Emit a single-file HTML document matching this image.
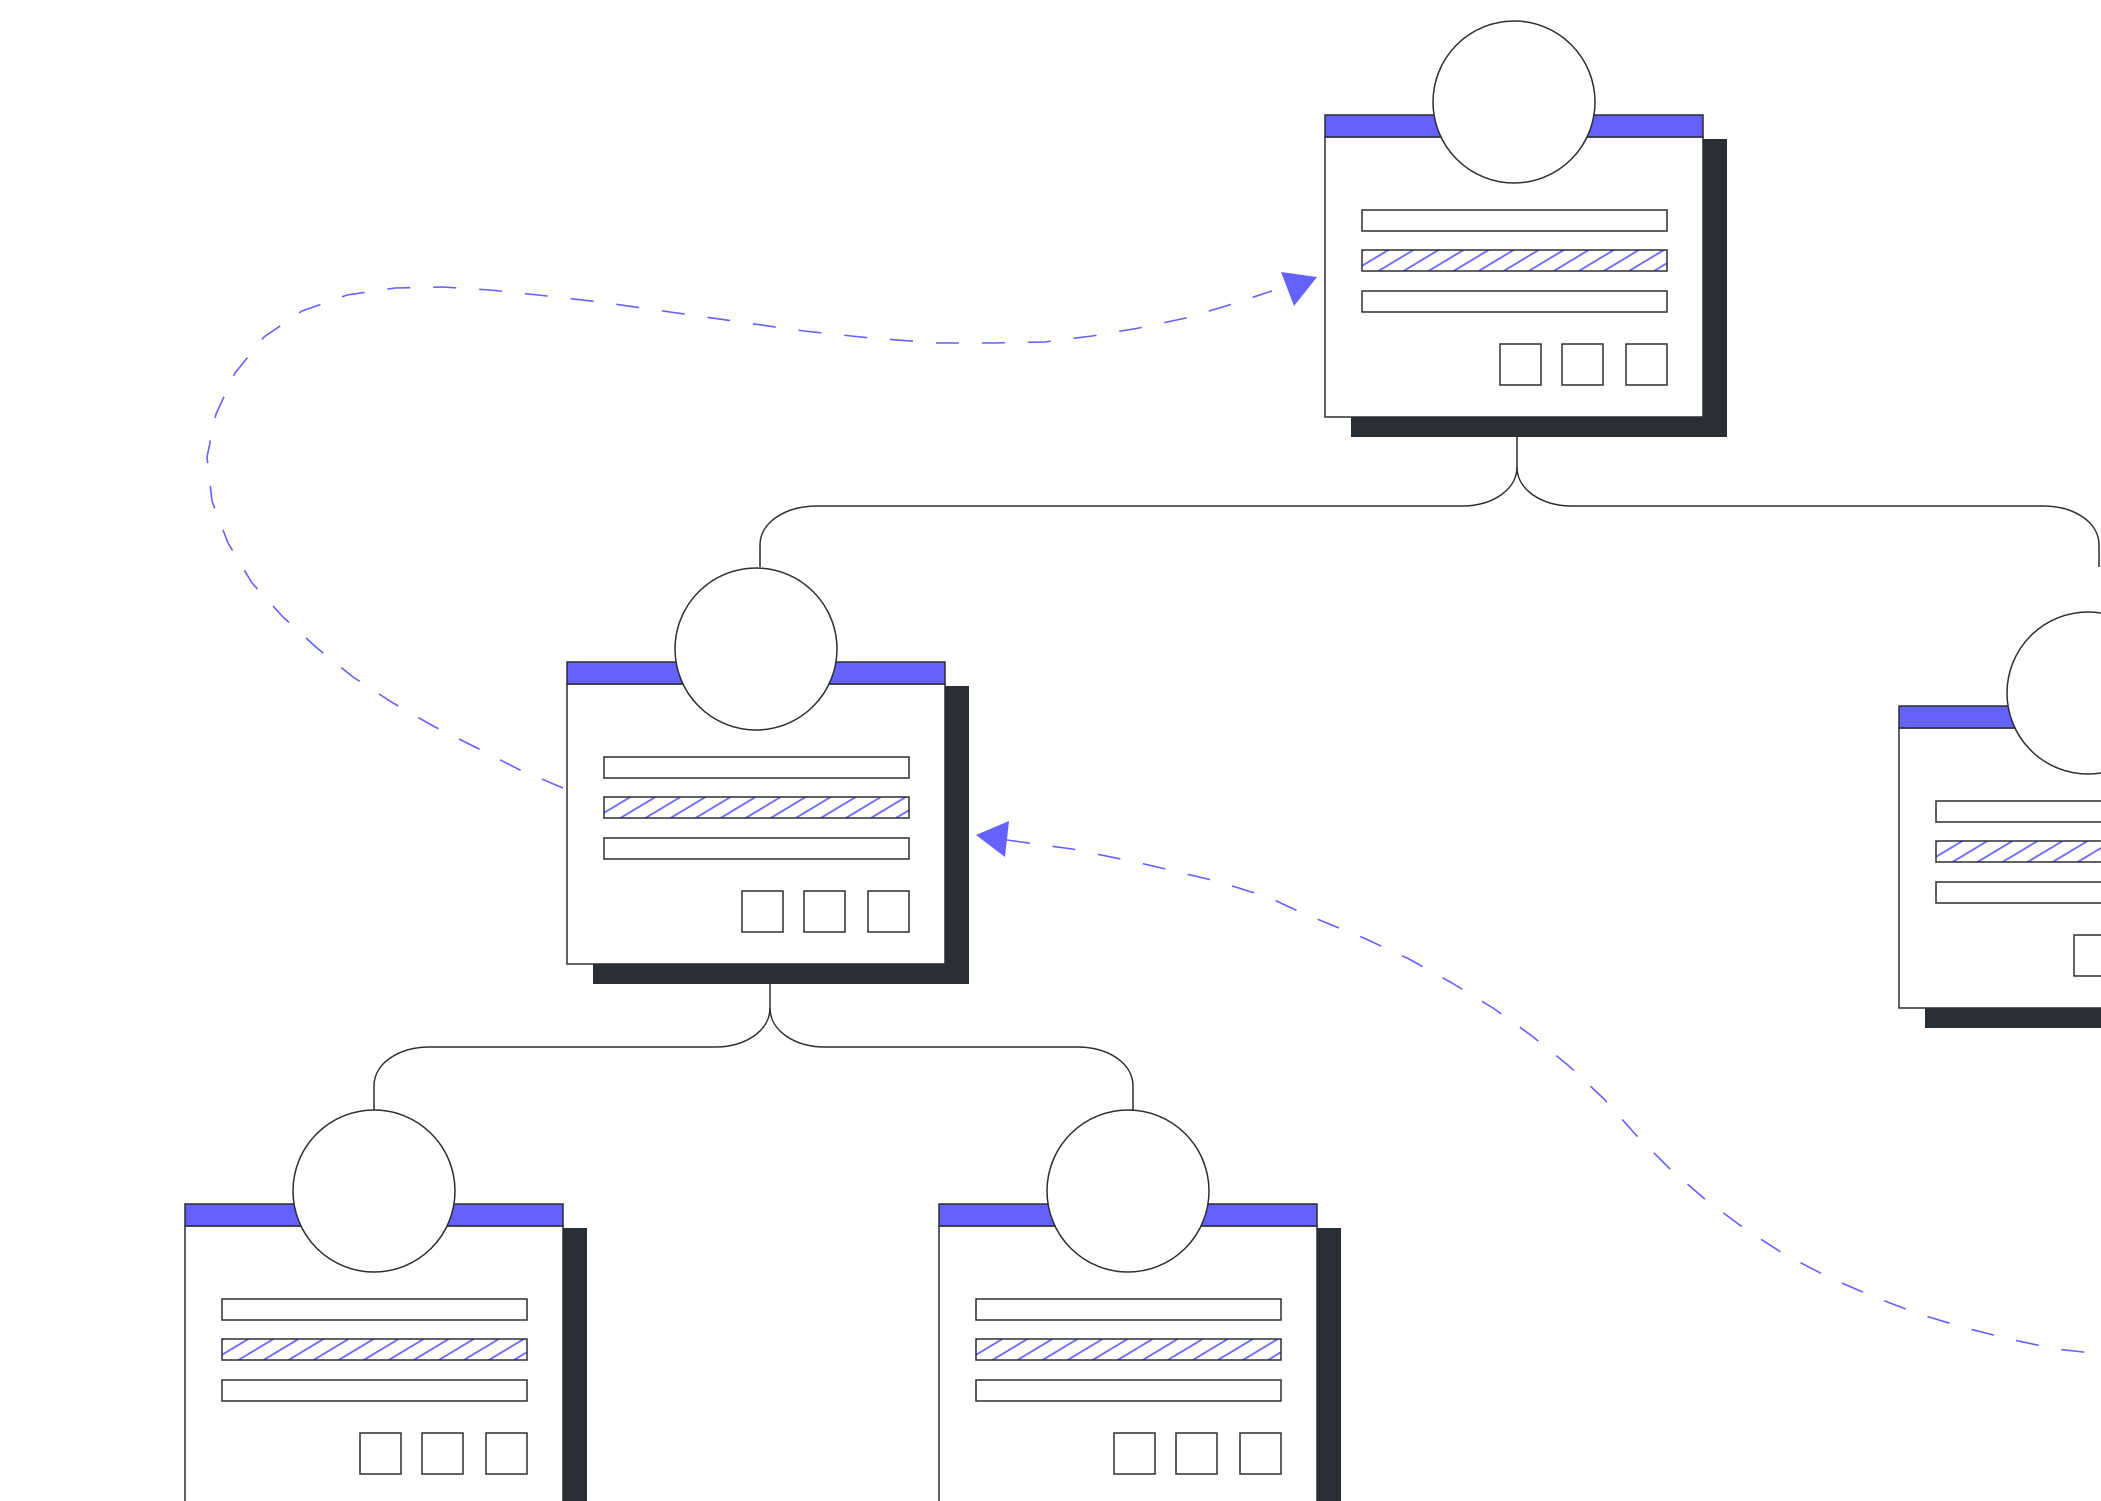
<!DOCTYPE html>
<html><head><meta charset="utf-8"><style>
html,body{margin:0;padding:0;background:#fff;}
svg{display:block;}
</style></head><body>
<svg width="2101" height="1501" viewBox="0 0 2101 1501" xmlns="http://www.w3.org/2000/svg">
<defs>
<pattern id="hatch" patternUnits="userSpaceOnUse" width="20" height="12.9" patternTransform="rotate(-31)">
<line x1="-5" y1="6.45" x2="25" y2="6.45" stroke="#6461fc" stroke-width="1.8"/>
</pattern>
<g id="card">
<rect x="26" y="24" width="376" height="298" fill="#2a2e35"/>
<rect x="0" y="22" width="378" height="280" fill="#fff" stroke="#2a2e35" stroke-width="1.5"/>
<rect x="0" y="0" width="378" height="22" fill="#6461fc" stroke="#2a2e35" stroke-width="1.5"/>
<circle cx="189" cy="-13" r="81" fill="#fff" stroke="#2a2e35" stroke-width="1.5"/>
<rect x="37" y="95" width="305" height="21" fill="#fff" stroke="#2a2e35" stroke-width="1.5"/>
<rect x="37" y="135" width="305" height="21" fill="#fff"/>
<rect x="37" y="135" width="305" height="21" fill="url(#hatch)" stroke="#2a2e35" stroke-width="1.5"/>
<rect x="37" y="176" width="305" height="21" fill="#fff" stroke="#2a2e35" stroke-width="1.5"/>
<rect x="175" y="229" width="41" height="41" fill="#fff" stroke="#2a2e35" stroke-width="1.5"/>
<rect x="237" y="229" width="41" height="41" fill="#fff" stroke="#2a2e35" stroke-width="1.5"/>
<rect x="301" y="229" width="41" height="41" fill="#fff" stroke="#2a2e35" stroke-width="1.5"/>
</g>
</defs>

<g fill="none" stroke="#2a2e35" stroke-width="1.5">
<path d="M1517 437 V467 C1517 490 1492 506 1462 506 H817 C786 506 760 522 760 545 V567"/>
<path d="M1517 467 C1517 490 1542 506 1572 506 H2043 C2074 506 2099 522 2099 545 V567"/>
<path d="M770 984 V1008 C770 1031 745 1047 715 1047 H430 C399 1047 374 1063 374 1086 V1110"/>
<path d="M770 1008 C770 1031 795 1047 825 1047 H1077 C1108 1047 1133 1063 1133 1086 V1110"/>
</g>

<use href="#card" x="1325" y="115"/>
<use href="#card" x="567" y="662"/>
<use href="#card" x="1899" y="706"/>
<use href="#card" x="185" y="1204"/>
<use href="#card" x="939" y="1204"/>

<g fill="none" stroke="#6461fc" stroke-width="1.6" stroke-dasharray="23 23" stroke-linejoin="round">
<polyline points="563,788 518,769 477,748 435,727 393,703 353,677 317,648 283,617 252,583 228,543 212,501 207,457 216,414 235,373 264,337 302,311 347,295 395,288 443,287 490,290 538,295 600,302 670,312 740,322 804,331 870,338 938,343 992,343 1045,342 1092,336 1139,328 1186,318 1226,306 1272,291"/>
<polyline points="1007,840 1072,849 1140,863 1220,882 1270,898 1300,912 1366,939 1409,959 1452,983 1493,1008 1532,1036 1569,1066 1604,1099 1636,1135 1670,1169 1706,1200 1745,1229 1784,1254 1828,1277 1872,1296 1916,1313 1962,1327 2009,1339 2056,1349 2101,1354"/>
</g>
<polygon points="1281,272 1317,277 1294,306" fill="#6461fc"/>
<polygon points="976,835 1009,821 1005,857" fill="#6461fc"/>
</svg>
</body></html>
